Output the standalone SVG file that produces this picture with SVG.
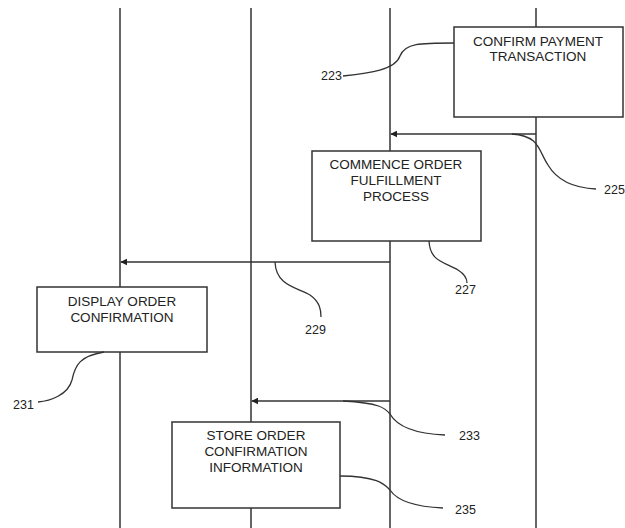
<svg xmlns="http://www.w3.org/2000/svg" width="625" height="528" viewBox="0 0 625 528">
<style>
.life{stroke:#333;stroke-width:1.5;fill:none}
.box rect{fill:#fff;stroke:#333;stroke-width:1.5}
.box text{font-family:"Liberation Sans",Arial,sans-serif;font-size:13.5px;fill:#222;text-anchor:middle}
.msg{stroke:#333;stroke-width:1.5;fill:none;marker-end:url(#ah)}
.lead{stroke:#333;stroke-width:1.3;fill:none}
.lbl{font-family:"Liberation Sans",Arial,sans-serif;font-size:12.5px;fill:#222}
</style>
<defs>
<marker id="ah" viewBox="0 0 10 10" refX="9" refY="5" markerWidth="7" markerHeight="7" orient="auto" markerUnits="userSpaceOnUse">
<path d="M0,0 L10,5 L0,10 z" fill="#222"/>
</marker>
</defs>
<rect width="625" height="528" fill="#fff"/>
<g id="lifelines">
<line class="life" x1="120" y1="8" x2="120" y2="528"/>
<line class="life" x1="251" y1="8" x2="251" y2="528"/>
<line class="life" x1="390" y1="8" x2="390" y2="528"/>
<line class="life" x1="536" y1="8" x2="536" y2="528"/>
</g>
<g id="confirm-payment" class="box">
<rect x="454" y="27" width="169" height="90"/>
<text x="538" y="46">CONFIRM PAYMENT</text>
<text x="538" y="61">TRANSACTION</text>
</g>
<g id="commence-order" class="box">
<rect x="312" y="151" width="169" height="90"/>
<text x="396" y="169">COMMENCE ORDER</text>
<text x="396" y="185">FULFILLMENT</text>
<text x="396" y="201">PROCESS</text>
</g>
<g id="display-order" class="box">
<rect x="37" y="287" width="170" height="65"/>
<text x="122" y="306">DISPLAY ORDER</text>
<text x="122" y="322">CONFIRMATION</text>
</g>
<g id="store-order" class="box">
<rect x="172" y="422" width="168" height="86"/>
<text x="256" y="440">STORE ORDER</text>
<text x="256" y="456">CONFIRMATION</text>
<text x="256" y="472">INFORMATION</text>
</g>
<g id="connectors">
<line class="msg" x1="536" y1="134" x2="391" y2="134"/>
<line class="msg" x1="390" y1="262" x2="121" y2="262"/>
<line class="msg" x1="390" y1="401" x2="252" y2="401"/>
</g>
<g id="leaders">
<path class="lead" d="M454,43 C420,43 405,43 400,56 C395,70 370,73 343,76"/>
<path class="lead" d="M512,134 C540,136 538,150 548,165 C558,182 575,188 596,189"/>
<path class="lead" d="M429,241 C430,262 445,262 458,270 C466,275 467,280 467,283"/>
<path class="lead" d="M275,262 C276,285 295,287 310,295 C320,302 321,310 321,317"/>
<path class="lead" d="M104,352 C80,356 75,365 72,380 C68,395 50,401 38,402"/>
<path class="lead" d="M343,401 C380,403 385,408 390,414 C398,428 420,434 445,435"/>
<path class="lead" d="M340,476 C378,476 385,485 390,490 C398,502 420,507 443,508"/>
</g>
<g id="labels">
<text class="lbl" x="321" y="80">223</text>
<text class="lbl" x="604" y="194">225</text>
<text class="lbl" x="455" y="294">227</text>
<text class="lbl" x="305" y="334">229</text>
<text class="lbl" x="13" y="409">231</text>
<text class="lbl" x="459" y="440">233</text>
<text class="lbl" x="455" y="514">235</text>
</g>
</svg>
